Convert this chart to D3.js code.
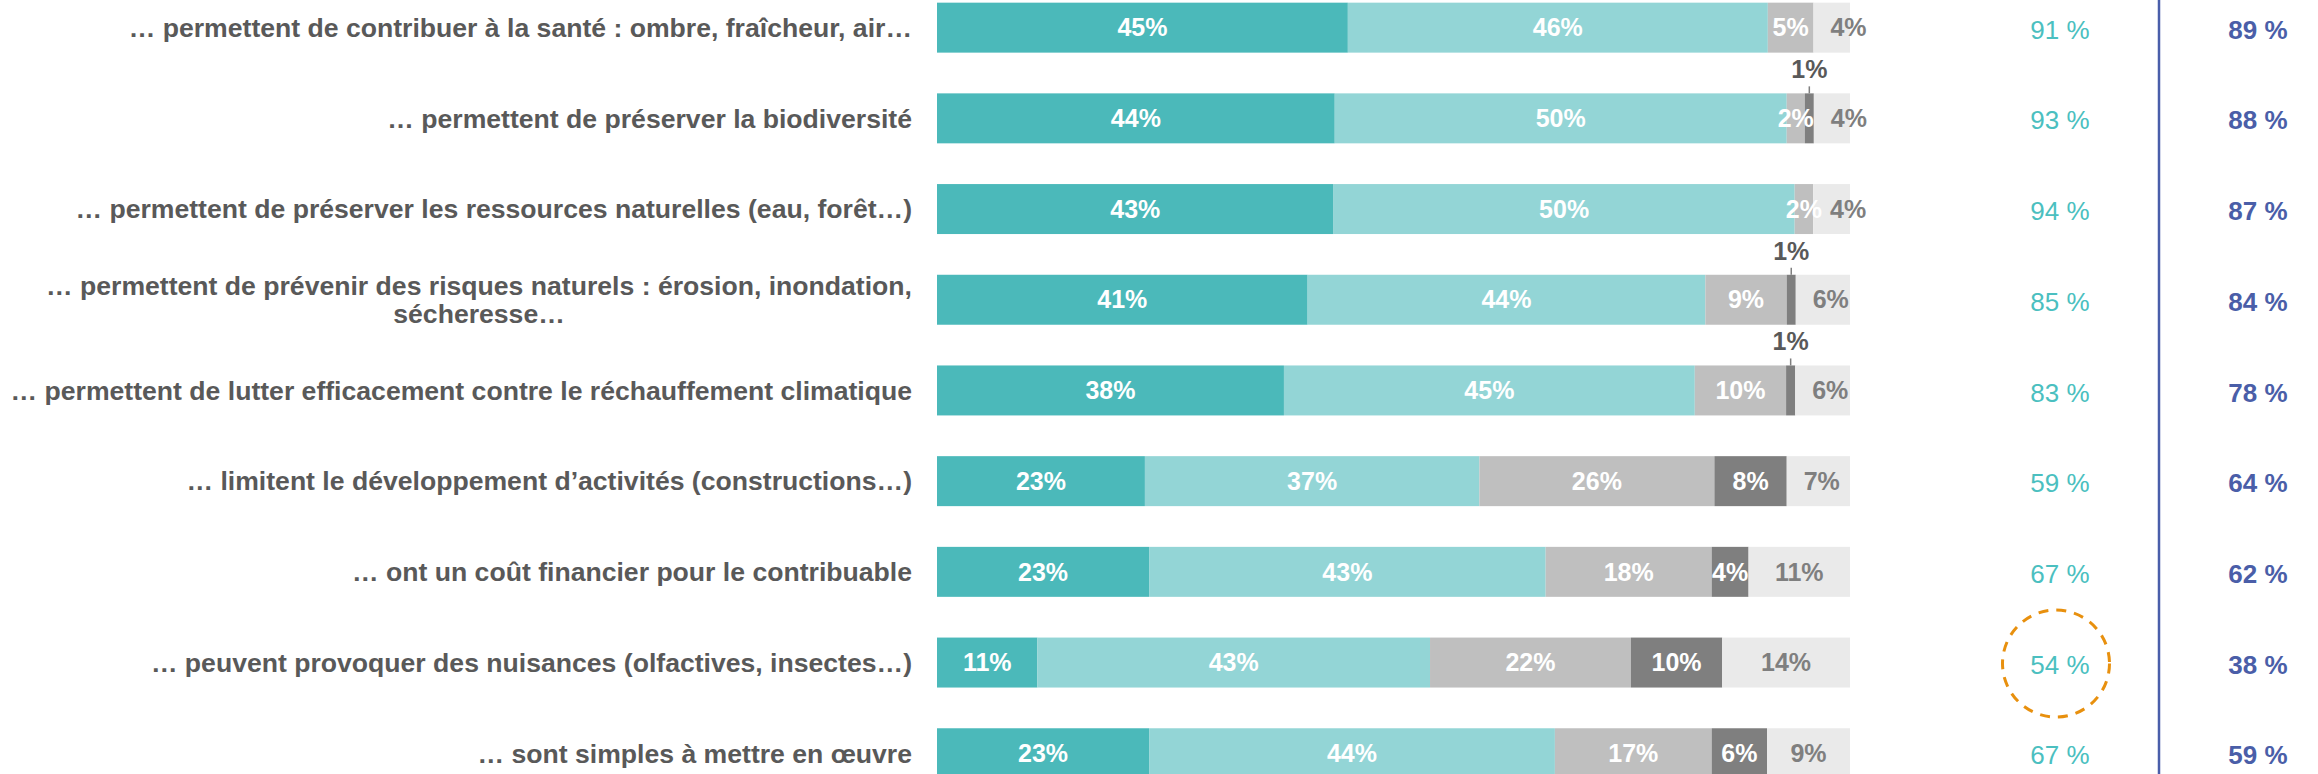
<!DOCTYPE html>
<meta charset="utf-8">
<style>
    body { margin: 0; background: #fff; }
    text { font-family: "Liberation Sans", Arial, sans-serif; }
    .label { font-size: 26.6px; font-weight: bold; fill: #595959; }
    .seg-label { font-size: 25px; font-weight: bold; }
    .total { font-size: 26px; fill: #4BBFC0; }
    .compare { font-size: 26px; font-weight: bold; fill: #4A5EA8; }
</style>
<body>
<script src="https://cdn.jsdelivr.net/npm/d3@7"></script>
<script>

    var width = 2318,
        height = 774;

    // libellés des items
    var labels = [
        "… permettent de contribuer à la santé : ombre, fraîcheur, air…",
        "… permettent de préserver la biodiversité",
        "… permettent de préserver les ressources naturelles (eau, forêt…)",
        "… permettent de prévenir des risques naturels : érosion, inondation,\nsécheresse…",
        "… permettent de lutter efficacement contre le réchauffement climatique",
        "… limitent le développement d’activités (constructions…)",
        "… ont un coût financier pour le contribuable",
        "… peuvent provoquer des nuisances (olfactives, insectes…)",
        "… sont simples à mettre en œuvre"
    ];

    // répartition des réponses (%)
    var toutAFait = [45, 44, 43, 41, 38, 23, 23, 11, 23],
        plutot    = [46, 50, 50, 44, 45, 37, 43, 43, 44],
        plutotPas = [5, 2, 2, 9, 10, 26, 18, 22, 17],
        pasDuTout = [0, 1, 0, 1, 1, 8, 4, 10, 6],
        nsp       = [4, 4, 4, 6, 6, 7, 11, 14, 9];

    // colonnes de droite
    var totalAccord = [91, 93, 94, 85, 83, 59, 67, 54, 67],
        comparaison = [89, 88, 87, 84, 78, 64, 62, 38, 59];

    var highlighted = 7; // ligne entourée

    var series = [toutAFait, plutot, plutotPas, pasDuTout, nsp],
        colors = ["#4BB9BA", "#93D5D6", "#BFBFBF", "#7F7F7F", "#EAEAEA"],
        textColors = ["#fff", "#fff", "#fff", "#fff", "#7F7F7F"];

    var barLeft = 937, barRight = 1850, labelRight = 912;

    var y = d3.scaleBand()
        .domain(d3.range(labels.length))
        .range([-17.7, 798.6])
        .paddingInner(0.449)
        .paddingOuter(0.2245);

    var svg = d3.select("body").append("svg")
        .attr("width", width)
        .attr("height", height);

    var rows = labels.map(function(label, i) {
        var vals = series.map(function(s) { return s[i]; });
        var x = d3.scaleLinear().domain([0, d3.sum(vals)]).range([barLeft, barRight]);
        var acc = 0;
        var segs = vals.map(function(v, k) {
            var s = {k: k, v: v, x0: x(acc), x1: x(acc + v)};
            acc += v;
            return s;
        });
        return {i: i, label: label, segs: segs};
    });

    var row = svg.selectAll("g.row")
        .data(rows)
        .enter().append("g")
        .attr("class", "row")
        .attr("transform", function(d) { return "translate(0," + y(d.i) + ")"; });

    row.selectAll("rect")
        .data(function(d) { return d.segs.filter(function(s) { return s.v > 0; }); })
        .enter().append("rect")
        .attr("x", function(s) { return s.x0; })
        .attr("width", function(s) { return s.x1 - s.x0; })
        .attr("height", y.bandwidth())
        .attr("fill", function(s) { return colors[s.k]; });

    // étiquettes des segments
    row.selectAll("text.seg-label")
        .data(function(d) { return d.segs.filter(function(s) { return s.v > 1; }); })
        .enter().append("text")
        .attr("class", "seg-label")
        .attr("text-anchor", "middle")
        .attr("x", function(s) {
            var c = (s.x0 + s.x1) / 2;
            return s.k === 4 ? Math.max(c, s.x0 + 35) : c;
        })
        .attr("y", y.bandwidth() / 2)
        .attr("dy", "0.35em")
        .attr("fill", function(s) { return textColors[s.k]; })
        .text(function(s) { return s.v + "%"; });

    // petits segments (1%) : étiquette au-dessus avec trait
    var small = row.selectAll("g.small")
        .data(function(d) { return d.segs.filter(function(s) { return s.v === 1; }); })
        .enter().append("g")
        .attr("class", "small");

    small.append("line")
        .attr("x1", function(s) { return (s.x0 + s.x1) / 2; })
        .attr("x2", function(s) { return (s.x0 + s.x1) / 2; })
        .attr("y1", -7)
        .attr("y2", 0)
        .attr("stroke", "#7F7F7F")
        .attr("stroke-width", 1.5);

    small.append("text")
        .attr("class", "seg-label")
        .attr("text-anchor", "middle")
        .attr("x", function(s) { return (s.x0 + s.x1) / 2; })
        .attr("y", -24)
        .attr("dy", "0.35em")
        .attr("fill", "#595959")
        .text(function(s) { return s.v + "%"; });

    // libellés à gauche (multi-lignes centrées, bloc aligné à droite)
    row.each(function(d) {
        var lines = d.label.split("\n"),
            lh = 28.6,
            g = d3.select(this);
        var t = g.append("text")
            .attr("class", "label")
            .attr("y", y.bandwidth() / 2 - (lines.length - 1) * lh / 2);
        var spans = t.selectAll("tspan")
            .data(lines)
            .enter().append("tspan")
            .attr("dy", function(l, j) { return j ? lh : "0.35em"; })
            .text(function(l) { return l; });
        if (lines.length === 1) {
            t.attr("text-anchor", "end");
            spans.attr("x", labelRight);
        } else {
            var w = d3.max(spans.nodes(), function(n) { return n.getComputedTextLength(); });
            t.attr("text-anchor", "middle");
            spans.attr("x", labelRight - w / 2);
        }
    });

    // colonnes de droite
    row.append("text")
        .attr("class", "total")
        .attr("text-anchor", "middle")
        .attr("x", 2060)
        .attr("y", y.bandwidth() / 2 + 2)
        .attr("dy", "0.35em")
        .text(function(d) { return totalAccord[d.i] + " %"; });

    row.append("text")
        .attr("class", "compare")
        .attr("text-anchor", "middle")
        .attr("x", 2258)
        .attr("y", y.bandwidth() / 2 + 2)
        .attr("dy", "0.35em")
        .text(function(d) { return comparaison[d.i] + " %"; });

    svg.append("line")
        .attr("x1", 2159).attr("x2", 2159)
        .attr("y1", 0).attr("y2", height)
        .attr("stroke", "#4A5EAA")
        .attr("stroke-width", 2.5);

    svg.append("circle")
        .attr("cx", 2056)
        .attr("cy", y(highlighted) + y.bandwidth() / 2 + 1)
        .attr("r", 53.5)
        .attr("fill", "none")
        .attr("stroke", "#E8900E")
        .attr("stroke-width", 3)
        .attr("stroke-dasharray", "10,8");

</script>
</body>
</html>
